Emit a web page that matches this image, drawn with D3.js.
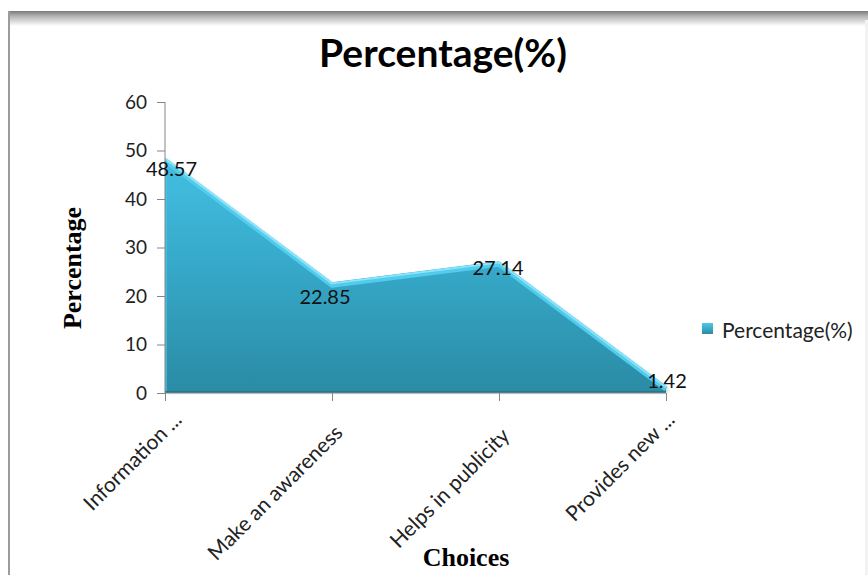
<!DOCTYPE html>
<html>
<head>
<meta charset="utf-8">
<script src="https://cdn.jsdelivr.net/npm/d3@7"></script>
<style>
  html, body { margin: 0; padding: 0; background: #fff; }
  svg { display: block; }
</style>
</head>
<body>
<svg id="chart" width="868" height="575"></svg>
<script>
// Survey responses: share of respondents per choice
const categories = ["Information ...", "Make an awareness", "Helps in publicity", "Provides new ..."];
const values = [48.57, 22.85, 27.14, 1.42];
const yTicks = [0, 10, 20, 30, 40, 50, 60];
const seriesName = "Percentage(%)";

// Nudges (dx, dy in px) for value labels and rotated category labels
const labelNudge = [[6.5, 12], [-7, 15], [-1, 7], [1, -5]];
const catNudge = [[18, 28], [12, 41], [12, 44], [10, 28]];

const svg = d3.select("#chart");
const W = 868, H = 575;
const sans = "Lato, 'Open Sans', 'DejaVu Sans', sans-serif";
const serif = "'Liberation Serif', 'DejaVu Serif', serif";

const defs = svg.append("defs");

// Frame: dark top band fading down, thin left border
const topGrad = defs.append("linearGradient").attr("id", "topBand")
  .attr("x1", 0).attr("y1", 0).attr("x2", 0).attr("y2", 1);
topGrad.append("stop").attr("offset", "0%").attr("stop-color", "#7a7a7a");
topGrad.append("stop").attr("offset", "35%").attr("stop-color", "#b4b4b4");
topGrad.append("stop").attr("offset", "100%").attr("stop-color", "#ffffff");

svg.append("rect").attr("x", 0).attr("y", 0).attr("width", W).attr("height", H).attr("fill", "#fff");
svg.append("rect").attr("x", 8).attr("y", 11).attr("width", W - 8).attr("height", 15).attr("fill", "url(#topBand)");
svg.append("rect").attr("x", 8).attr("y", 11).attr("width", 2).attr("height", H - 11).attr("fill", "#9c9c9c");
svg.append("rect").attr("x", 865).attr("y", 20).attr("width", 3).attr("height", H - 20).attr("fill", "#f2f2f2");

// Scales
const x = d3.scalePoint().domain(categories).range([165, 666]);
const y = d3.scaleLinear().domain([0, 60]).range([393, 102]);

// Area fill gradient
const areaGrad = defs.append("linearGradient").attr("id", "areaFill")
  .attr("gradientUnits", "userSpaceOnUse")
  .attr("x1", 0).attr("y1", y(50)).attr("x2", 0).attr("y2", y(0));
areaGrad.append("stop").attr("offset", "0%").attr("stop-color", "#44c1e3");
areaGrad.append("stop").attr("offset", "45%").attr("stop-color", "#37aacb");
areaGrad.append("stop").attr("offset", "100%").attr("stop-color", "#2a8ba4");

const shadow = defs.append("filter").attr("id", "soft").attr("x", "-5%").attr("y", "-5%").attr("width", "110%").attr("height", "115%");
shadow.append("feGaussianBlur").attr("stdDeviation", 1.5);

const pts = categories.map((c, i) => [x(c), y(values[i])]);

const area = d3.area().x(d => d[0]).y0(y(0)).y1(d => d[1]);
const line = d3.line().x(d => d[0]).y(d => d[1]);

// soft shadow under the area
svg.append("path").attr("d", area(pts.map(p => [p[0] + 2, p[1] + 2])))
  .attr("fill", "#9bb8c0").attr("opacity", 0.5).attr("filter", "url(#soft)");

svg.append("path").attr("d", area(pts)).attr("fill", "url(#areaFill)");

// bevel highlight along top edge
svg.append("path").attr("d", line(pts.map(p => [p[0], p[1] + 3])))
  .attr("fill", "none").attr("stroke", "#52cbec").attr("stroke-width", 5).attr("stroke-linejoin", "round");
svg.append("path").attr("d", line(pts.map(p => [p[0], p[1] + 1.2])))
  .attr("fill", "none").attr("stroke", "#8be4fb").attr("stroke-width", 2).attr("stroke-linejoin", "round");
// left edge highlight
svg.append("line").attr("x1", x(categories[0]) + 1).attr("x2", x(categories[0]) + 1)
  .attr("y1", pts[0][1] + 3).attr("y2", y(0))
  .attr("stroke", "#4fc4e2").attr("stroke-width", 2).attr("opacity", 0.7);
// dark base line
svg.append("line").attr("x1", x(categories[0])).attr("x2", x(categories[3]))
  .attr("y1", y(0) - 1).attr("y2", y(0) - 1).attr("stroke", "#24788e").attr("stroke-width", 2);

// Axes
const axisColor = "#868686";
const yAxis = svg.append("g").attr("transform", `translate(${x(categories[0])},0)`)
  .call(d3.axisLeft(y).tickValues(yTicks).tickSize(8).tickPadding(10).tickFormat(d3.format("d")));
yAxis.select(".domain").attr("stroke", axisColor).attr("d", `M0,${y(60)}V${y(0)}`);
yAxis.selectAll(".tick line").attr("stroke", axisColor);
yAxis.selectAll(".tick text").attr("font-family", sans).attr("font-size", 19).attr("fill", "#222");

const xAxis = svg.append("g").attr("transform", `translate(0,${y(0)})`)
  .call(d3.axisBottom(x).tickSize(8).tickFormat(""));
xAxis.select(".domain").attr("stroke", axisColor).attr("d", `M${x(categories[0])},0H${x(categories[3])}`);
xAxis.selectAll(".tick line").attr("stroke", axisColor);

// Rotated category labels
svg.append("g").selectAll("text").data(categories).join("text")
  .attr("transform", (d, i) => `translate(${x(d) + catNudge[i][0]},${y(0) + catNudge[i][1]}) rotate(-45)`)
  .attr("text-anchor", "end")
  .attr("font-family", sans).attr("font-size", 21).attr("fill", "#222")
  .text(d => d);

// Value labels
svg.append("g").selectAll("text").data(values).join("text")
  .attr("x", (d, i) => pts[i][0] + labelNudge[i][0])
  .attr("y", (d, i) => pts[i][1] + labelNudge[i][1])
  .attr("dy", "0.35em")
  .attr("text-anchor", "middle")
  .attr("font-family", sans).attr("font-size", 20).attr("fill", "#111")
  .text(d => d);

// Title
svg.append("text").attr("x", 443).attr("y", 67).attr("text-anchor", "middle")
  .attr("font-family", sans).attr("font-weight", "bold").attr("font-size", 39).attr("fill", "#000")
  .text(seriesName);

// Axis titles
svg.append("text").attr("transform", "translate(81,268) rotate(-90)").attr("text-anchor", "middle")
  .attr("font-family", serif).attr("font-weight", "bold").attr("font-size", 26).attr("fill", "#000")
  .text("Percentage");
svg.append("text").attr("x", 466).attr("y", 566).attr("text-anchor", "middle")
  .attr("font-family", serif).attr("font-weight", "bold").attr("font-size", 26).attr("fill", "#000")
  .text("Choices");

// Legend
const lg = svg.append("g").attr("transform", "translate(702,323)");
const legGrad = defs.append("linearGradient").attr("id", "legFill").attr("x1", 0).attr("y1", 0).attr("x2", 0).attr("y2", 1);
legGrad.append("stop").attr("offset", "0%").attr("stop-color", "#4fcaea");
legGrad.append("stop").attr("offset", "100%").attr("stop-color", "#2a8ba4");
lg.append("rect").attr("width", 11).attr("height", 11).attr("fill", "url(#legFill)");
lg.append("text").attr("x", 20).attr("y", 8).attr("dy", "0.35em")
  .attr("font-family", sans).attr("font-size", 21).attr("fill", "#222")
  .text(seriesName);
</script>
</body>
</html>
